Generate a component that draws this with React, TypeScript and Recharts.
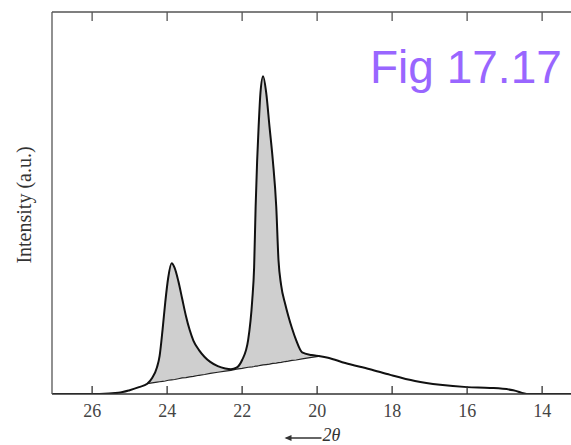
import React from "react";
import { ComposedChart, Area, Line, XAxis, YAxis } from "recharts";

// 2θ positions (degrees), read left to right (axis runs high -> low)
const twoTheta = [
  27.07, 25.8, 25.3, 25.0, 24.75, 24.53, 24.4, 24.27, 24.2, 24.12, 24.05, 23.97,
  23.88, 23.8, 23.7, 23.6, 23.5, 23.4, 23.3, 23.15, 23.0, 22.85, 22.65, 22.45, 22.3,
  22.15, 22.0, 21.84, 21.73, 21.68, 21.64, 21.6, 21.56, 21.51, 21.44, 21.36,
  21.27, 21.18, 21.09, 21.03, 20.96, 20.85, 20.77, 20.67, 20.56, 20.4, 20.15, 19.92,
  19.71, 19.25, 18.59, 18.05, 17.39, 16.72, 16.0, 15.39, 14.77, 14.37, 13.23,
];

// measured intensity (a.u.)
const intensity = [
  0, 0, 0.3, 1.0, 1.8, 2.7, 4.2, 7.0, 10.0, 17.0, 24.0, 30.5,
  34.2, 33.0, 29.5, 25.0, 20.5, 16.8, 14.0, 11.5, 9.7, 8.4, 7.3, 6.7, 6.5,
  6.9, 8.9, 14.1, 24.6, 33.2, 49, 61, 70, 79, 83.2, 79,
  70, 61, 49, 35, 28.5, 23.5, 20.5, 17.2, 14.1, 10.9, 10.2, 9.9,
  9.5, 8.1, 6.5, 5.0, 3.4, 2.4, 1.8, 1.6, 1.0, 0, 0,
];

// amorphous background under the crystalline peaks (null = not drawn)
const amorphous = [
  null, null, null, null, null, 2.7, 2.9, 3.1, 3.2, 3.3, 3.4, 3.6,
  3.7, 3.8, 4.0, 4.2, 4.3, 4.5, 4.6, 4.9, 5.1, 5.4, 5.7, 6.0, 6.2,
  6.5, 6.7, 7.0, 7.1, 7.2, 7.3, 7.3, 7.4, 7.5, 7.6, 7.7,
  7.8, 8.0, 8.1, 8.2, 8.3, 8.5, 8.6, 8.8, 8.9, 9.2, 9.6, 9.9,
  null, null, null, null, null, null, null, null, null, null, null,
];

const xTicks = [26, 24, 22, 20, 18, 16, 14];

const data = twoTheta.map((t, i) => ({
  t,
  total: intensity[i],
  base: amorphous[i],
}));

const axisGray = "#555";
const serif = "'Liberation Serif', 'DejaVu Serif', serif";

const BottomTick = (props: any) => {
  const { x, y, payload } = props;
  return (
    <g>
      <line x1={x} y1={y} x2={x} y2={y - 8} stroke="#333" strokeWidth={1.3} />
      <text x={x} y={y + 23} textAnchor="middle" fill="#444" fontSize={18} fontFamily={serif}>
        {payload.value}
      </text>
    </g>
  );
};

const TopTick = (props: any) => {
  const { x, y } = props;
  return <line x1={x} y1={y} x2={x} y2={y + 9} stroke={axisGray} strokeWidth={1.3} />;
};

const XLabel = (props: any) => {
  const { viewBox } = props;
  const cx = viewBox.x + viewBox.width / 2;
  const ay = 438;
  return (
    <g>
      <line x1={cx - 25} y1={ay} x2={cx + 10} y2={ay} stroke="#333" strokeWidth={1.4} />
      <path d={`M${cx - 27},${ay} L${cx - 20},${ay - 3} L${cx - 20},${ay + 3} Z`} fill="#333" />
      <text x={cx + 11} y={441} fill="#333" fontSize={18} fontStyle="italic" fontFamily={serif}>
        2θ
      </text>
    </g>
  );
};

const YLabel = (props: any) => {
  const { viewBox } = props;
  const x = 24;
  const y = viewBox.y + viewBox.height / 2 + 2;
  return (
    <text
      x={x}
      y={y}
      transform={`rotate(-90, ${x}, ${y})`}
      textAnchor="middle"
      dominantBaseline="central"
      fill="#333"
      fontSize={20}
      fontFamily={serif}
    >
      Intensity (a.u.)
    </text>
  );
};

const Title = () => (
  <text x={370} y={83} fill="#9966ff" fontSize={46} fontFamily="'Liberation Sans', Arial, sans-serif">
    Fig 17.17
  </text>
);

export default function App() {
  return (
    <div style={{ position: "absolute", left: 0, top: 0, background: "#fff" }}>
      <ComposedChart
        width={571}
        height={445}
        data={data}
        margin={{ top: 11, right: 0, bottom: 0, left: 51 }}
      >
        <XAxis
          xAxisId="b"
          dataKey="t"
          type="number"
          domain={[13.23, 27.07]}
          allowDataOverflow
          reversed
          ticks={xTicks}
          interval={0}
          height={51}
          tickLine={false}
          tickSize={0}
          tickMargin={0}
          tick={<BottomTick />}
          axisLine={{ stroke: "#333", strokeWidth: 1.5 }}
          label={<XLabel />}
        />
        <XAxis
          xAxisId="t"
          orientation="top"
          dataKey="t"
          type="number"
          domain={[13.23, 27.07]}
          allowDataOverflow
          reversed
          ticks={xTicks}
          interval={0}
          height={1}
          tickLine={false}
          tickSize={0}
          tickMargin={0}
          tick={<TopTick />}
          axisLine={{ stroke: axisGray, strokeWidth: 1.3 }}
          label={<Title />}
        />
        <YAxis
          type="number"
          domain={[0, 100]}
          allowDataOverflow
          width={1}
          tick={false}
          tickLine={false}
          axisLine={{ stroke: axisGray, strokeWidth: 1.3 }}
          label={<YLabel />}
        />
        <Area
          xAxisId="b"
          type="monotone"
          dataKey={(d: any) => (d.base == null ? null : [d.base, d.total])}
          stroke="none"
          fill="#cfcfcf"
          fillOpacity={1}
          isAnimationActive={false}
        />
        <Line
          xAxisId="b"
          type="linear"
          dataKey="base"
          stroke="#222"
          strokeWidth={1.2}
          dot={false}
          activeDot={false}
          isAnimationActive={false}
        />
        <Line
          xAxisId="b"
          type="monotone"
          dataKey="total"
          stroke="#111"
          strokeWidth={2}
          dot={false}
          activeDot={false}
          isAnimationActive={false}
        />
      </ComposedChart>
    </div>
  );
}
